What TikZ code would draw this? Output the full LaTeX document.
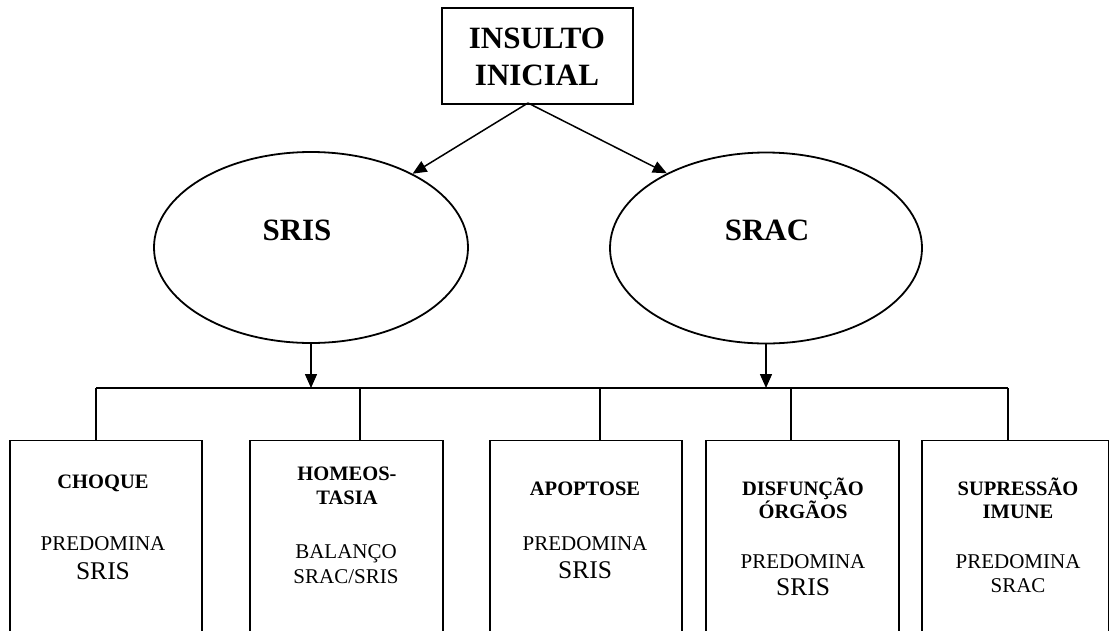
\documentclass[tikz,border=0pt]{standalone}
\usepackage{fontspec}
\setmainfont{Liberation Serif}
\usetikzlibrary{shapes.geometric,arrows.meta}
\tikzset{
  ln/.style={line width=1.8pt},
  arr/.style={line width=1.5pt,-{Triangle[length=14pt,width=12pt]}},
  topbox/.style={draw,ln,rectangle,minimum width=191pt,minimum height=96pt,inner sep=0pt},
  ell/.style={draw,ln,ellipse,inner sep=0pt},
  lowbox/.style={draw,ln,rectangle,anchor=north west,minimum height=230pt,inner sep=0pt},
  hugeb/.style={anchor=base,inner sep=0pt,font=\fontsize{31}{37}\selectfont\bfseries},
  ttl/.style={anchor=base,inner sep=0pt,font=\fontsize{20.5}{24}\selectfont\bfseries},
  reg/.style={anchor=base,inner sep=0pt,font=\fontsize{21}{25}\selectfont},
  big/.style={anchor=base,inner sep=0pt,font=\fontsize{25.5}{30}\selectfont}
}
\begin{document}
\begin{tikzpicture}[x=1pt,y=-1pt]
\useasboundingbox (0,0) rectangle (1109,630);
\clip (0,0) rectangle (1109,630);
% top box
\node[topbox] (top) at (537.5,56) {};
\node[hugeb] (t1) at (537,48) {INSULTO};
\node[hugeb] (t2) at (537,85) {INICIAL};
% ellipses
\node[ell,minimum width=314pt,minimum height=191pt] (sris) at (311,247.5) {};
\node[ell,minimum width=312pt,minimum height=191pt] (srac) at (766,248) {};
\node[hugeb] (sristxt) at (297,240) {SRIS};
\node[hugeb] (sractxt) at (767,240) {SRAC};
\coordinate (apex) at (528,103);
\draw[arr] (apex) -- (sris.36);
\draw[arr] (apex) -- (srac.143);
% bottom boxes
\node[lowbox,minimum width=192pt] (b1) at (9,439.5) {};
\node[lowbox,minimum width=193pt] (b2) at (249,439.5) {};
\node[lowbox,minimum width=192pt] (b3) at (489,439.5) {};
\node[lowbox,minimum width=193pt] (b4) at (705,439.5) {};
\node[lowbox,minimum width=187pt] (b5) at (921,439.5) {};
% bus
\coordinate (d1) at (96,388);
\coordinate (d2) at (360,388);
\coordinate (d3) at (600,388);
\coordinate (d4) at (791,388);
\coordinate (d5) at (1008,388);
\draw[ln] (d1) -- (d5);
\draw[ln] (d1) -- (d1 |- b1.north);
\draw[ln] (d2) -- (d2 |- b2.north);
\draw[ln] (d3) -- (d3 |- b3.north);
\draw[ln] (d4) -- (d4 |- b4.north);
\draw[ln] (d5) -- (d5 |- b5.north);
\draw[arr] (sris.south) -- (sris.south |- d1);
\draw[arr] (srac.south) -- (srac.south |- d1);
% box texts
\node[ttl] (c1a) at (103,488) {CHOQUE};
\node[reg] (c1b) at (103,550) {PREDOMINA};
\node[big] (c1c) at (103,579) {SRIS};
\node[ttl] (c2a) at (347,480) {HOMEOS-};
\node[ttl] (c2b) at (347,504) {TASIA};
\node[reg] (c2c) at (346,558) {BALANÇO};
\node[reg] (c2d) at (346,583) {SRAC/SRIS};
\node[ttl] (c3a) at (585,495) {APOPTOSE};
\node[reg] (c3b) at (585,550) {PREDOMINA};
\node[big] (c3c) at (585,578) {SRIS};
\node[ttl] (c4a) at (803,495) {DISFUNÇÃO};
\node[ttl] (c4b) at (803,518) {ÓRGÃOS};
\node[reg] (c4c) at (803,568) {PREDOMINA};
\node[big] (c4d) at (803,595) {SRIS};
\node[ttl] (c5a) at (1018,495) {SUPRESSÃO};
\node[ttl] (c5b) at (1018,518) {IMUNE};
\node[reg] (c5c) at (1018,568) {PREDOMINA};
\node[reg] (c5d) at (1018,592) {SRAC};
\end{tikzpicture}
\end{document}
